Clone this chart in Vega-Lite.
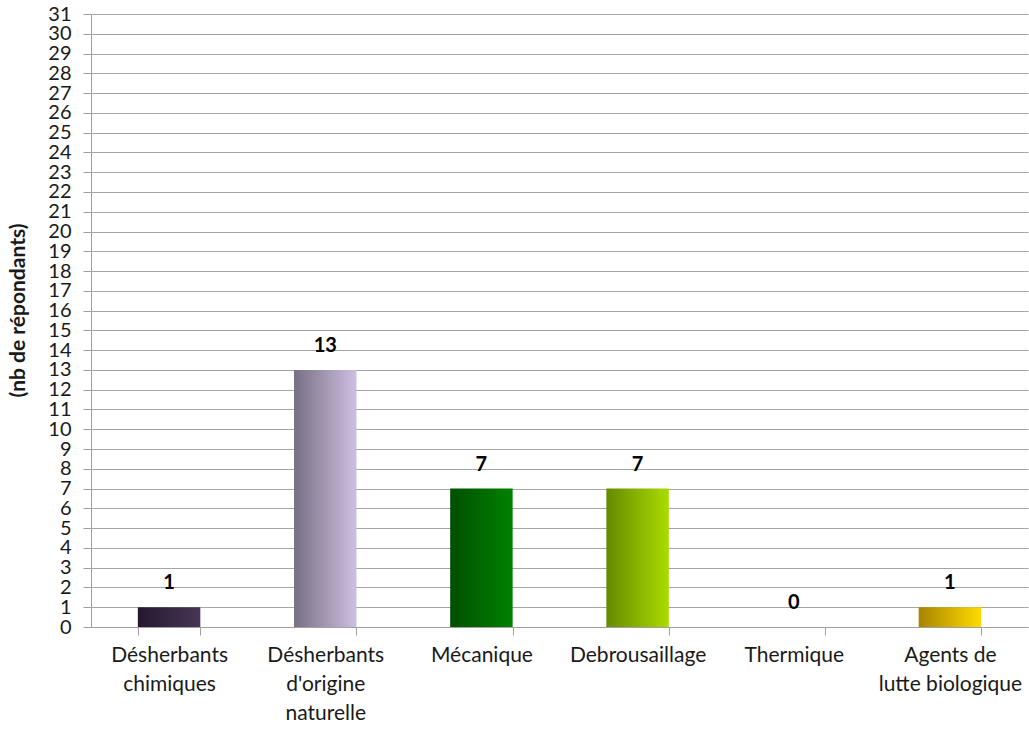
{
  "$schema": "https://vega.github.io/schema/vega-lite/v6.json",
  "autosize": {"type": "none"},
  "width": 937,
  "height": 613,
  "padding": {"left": 91, "top": 14, "right": 1, "bottom": 102},
  "background": "white",
  "data": {
    "values": [
      {"categorie": "Désherbants chimiques", "n": 1},
      {"categorie": "Désherbants d'origine naturelle", "n": 13},
      {"categorie": "Mécanique", "n": 7},
      {"categorie": "Debrousaillage", "n": 7},
      {"categorie": "Thermique", "n": 0},
      {"categorie": "Agents de lutte biologique", "n": 1}
    ]
  },
  "config": {
    "font": "Lato",
    "view": {"stroke": null},
    "axis": {"labelFont": "Lato", "titleFont": "Lato"}
  },
  "encoding": {
    "x": {
      "field": "categorie",
      "type": "nominal",
      "sort": ["Désherbants chimiques", "Désherbants d'origine naturelle", "Mécanique", "Debrousaillage", "Thermique", "Agents de lutte biologique"],
      "scale": {"paddingInner": 0.6, "paddingOuter": 0.3},
      "axis": {
        "title": null,
        "labelAngle": 0,
        "labelFontSize": 21,
        "labelColor": "#1a1a1a",
        "labelPadding": 9,
        "labelLineHeight": 29,
        "labelBaseline": "top",
        "labelExpr": "datum.label == 'Désherbants chimiques' ? ['Désherbants', 'chimiques'] : datum.label == \"Désherbants d'origine naturelle\" ? ['Désherbants', \"d'origine\", 'naturelle'] : datum.label == 'Agents de lutte biologique' ? ['Agents de', 'lutte biologique'] : datum.label",
        "tickBand": "extent",
        "tickSize": 8,
        "tickColor": "#a0a0a0",
        "domainColor": "#a0a0a0",
        "grid": false
      }
    },
    "y": {
      "field": "n",
      "type": "quantitative",
      "scale": {"domain": [0, 31], "nice": false},
      "axis": {
        "title": "(nb de répondants)",
        "titleFontSize": 21,
        "titleFontWeight": "bold",
        "titleColor": "#1a1a1a",
        "titleX": -73,
        "titleY": 296,
        "titleAngle": -90,
        "titleAlign": "center",
        "titleBaseline": "middle",
        "values": [0,1,2,3,4,5,6,7,8,9,10,11,12,13,14,15,16,17,18,19,20,21,22,23,24,25,26,27,28,29,30,31],
        "labelFontSize": 20,
        "labelColor": "#1a1a1a",
        "labelPadding": 12,
        "labelOverlap": false,
        "tickSize": 8,
        "tickColor": "#a0a0a0",
        "domainColor": "#a0a0a0",
        "gridColor": "#a6a6a6",
        "gridWidth": 1
      }
    }
  },
  "layer": [
    {
      "transform": [{"filter": "datum.categorie == 'Désherbants chimiques'"}],
      "mark": {"type": "bar", "color": {"gradient": "linear", "x1": 0, "x2": 1, "y1": 0, "y2": 0, "stops": [{"offset": 0, "color": "#24182f"}, {"offset": 1, "color": "#473657"}]}}
    },
    {
      "transform": [{"filter": "datum.categorie == \"Désherbants d'origine naturelle\""}],
      "mark": {"type": "bar", "color": {"gradient": "linear", "x1": 0, "x2": 1, "y1": 0, "y2": 0, "stops": [{"offset": 0, "color": "#787085"}, {"offset": 1, "color": "#cdbfe0"}]}}
    },
    {
      "transform": [{"filter": "datum.categorie == 'Mécanique'"}],
      "mark": {"type": "bar", "color": {"gradient": "linear", "x1": 0, "x2": 1, "y1": 0, "y2": 0, "stops": [{"offset": 0, "color": "#004f00"}, {"offset": 1, "color": "#008200"}]}}
    },
    {
      "transform": [{"filter": "datum.categorie == 'Debrousaillage'"}],
      "mark": {"type": "bar", "color": {"gradient": "linear", "x1": 0, "x2": 1, "y1": 0, "y2": 0, "stops": [{"offset": 0, "color": "#658a00"}, {"offset": 1, "color": "#aadc00"}]}}
    },
    {
      "transform": [{"filter": "datum.categorie == 'Agents de lutte biologique'"}],
      "mark": {"type": "bar", "color": {"gradient": "linear", "x1": 0, "x2": 1, "y1": 0, "y2": 0, "stops": [{"offset": 0, "color": "#a88400"}, {"offset": 1, "color": "#ffdc00"}]}}
    },
    {
      "mark": {"type": "text", "fontSize": 20, "fontWeight": "bold", "color": "#000000", "baseline": "alphabetic", "dy": -18},
      "encoding": {"text": {"field": "n", "type": "quantitative"}}
    }
  ]
}
